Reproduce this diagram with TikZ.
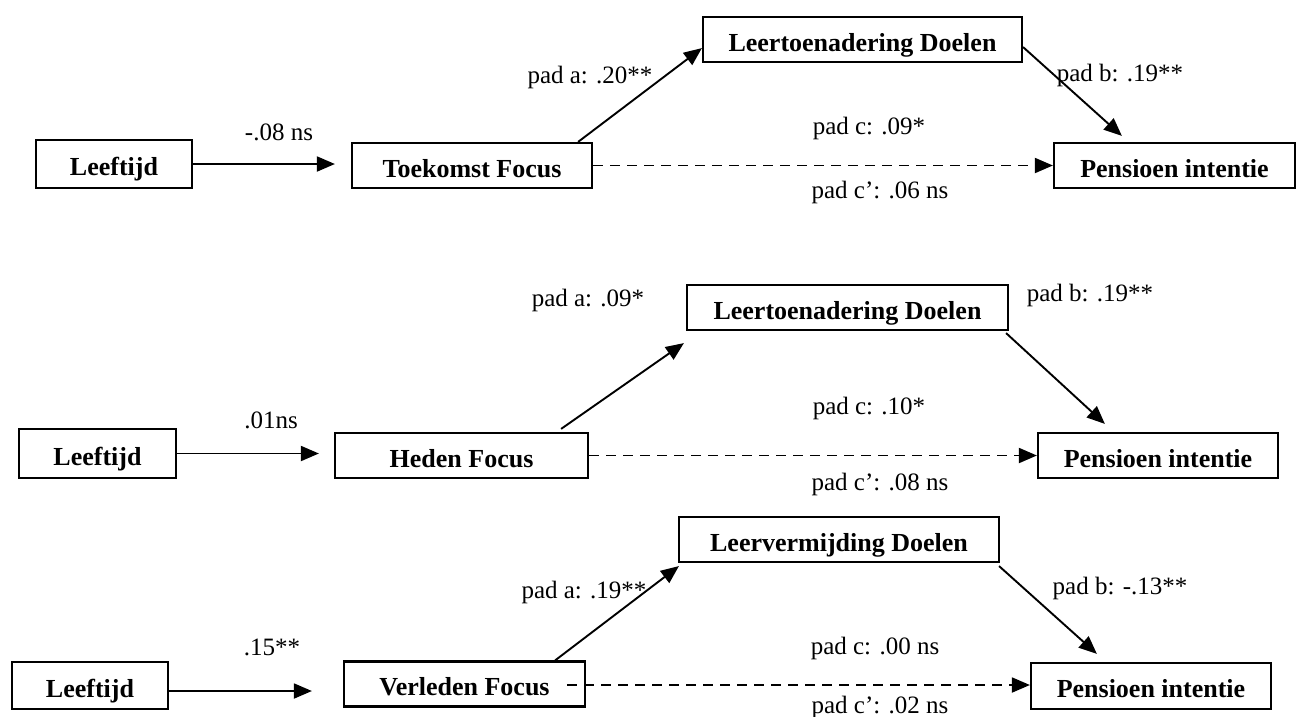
\documentclass[tikz,border=0pt]{standalone}
\usepackage{fontspec}
\setmainfont{Liberation Serif}
\usetikzlibrary{arrows.meta}

\begin{document}
\begin{tikzpicture}[x=1pt, y=-1pt, line width=1.9pt,
  box/.style={draw, line width=2.2pt, inner sep=0pt, minimum height=45pt,
    text height=34pt, text depth=11pt, font=\fontsize{26}{30}\selectfont\bfseries},
  lbl/.style={inner sep=0pt, font=\fontsize{25}{30}\selectfont},
  pijl/.style={-{Triangle[length=18pt, width=15pt]}},
  stip/.style={pijl, dash pattern=on 10pt off 7pt}]
  \useasboundingbox (0,0) rectangle (1304,716);
  % model 1: toekomst
  \node[box, minimum width=156pt, minimum height=48pt] (lft1) at (114,164) {Leeftijd};
  \node[box, minimum width=240pt] (tf) at (472,165.5) {Toekomst Focus};
  \node[box, minimum width=319pt] (ltd1) at (862.5,39.5) {Leertoenadering Doelen};
  \node[box, minimum width=241pt] (pi1) at (1174.5,165.5) {Pensioen intentie};
  \draw[pijl, shorten >=16pt] (lft1.east) -- (lft1.east -| tf.west);
  \draw[pijl] ([xshift=-15pt]tf.north east) -- ([yshift=15pt]ltd1.south west);
  \draw[pijl] ([yshift=16pt]ltd1.south east) -- ([xshift=69pt,yshift=6pt]pi1.north west);
  \draw[stip] (tf.east) -- (tf.east -| pi1.west);
  \node[lbl] (w1) at (279,132) {-.08 ns};
  \node[lbl] (a1) at (590,77) {pad a: .20**};
  \node[lbl] (b1) at (1120,75) {pad b: .19**};
  \node[lbl] (c1) at (869,128) {pad c: .09*};
  \node[lbl] (cc1) at (880,192) {pad c’: .06 ns};
  % model 2: heden
  \node[box, minimum width=157pt, minimum height=49pt] (lft2) at (97.5,453.5) {Leeftijd};
  \node[box, minimum width=253pt] (hf) at (461.5,455.5) {Heden Focus};
  \node[box, minimum width=321pt] (ltd2) at (847.5,307.5) {Leertoenadering Doelen};
  \node[box, minimum width=240pt] (pi2) at (1158,455.5) {Pensioen intentie};
  \draw[pijl, shorten >=15pt] (lft2.east) -- (lft2.east -| hf.west);
  \draw[pijl] ([xshift=-28pt,yshift=3pt]hf.north east) -- ([xshift=-2pt,yshift=-12pt]ltd2.south west);
  \draw[pijl] ([xshift=-3pt,yshift=-2pt]ltd2.south east) -- ([xshift=68pt,yshift=8pt]pi2.north west);
  \draw[stip] (hf.east) -- (hf.east -| pi2.west);
  \node[lbl] (w2) at (271,420) {.01ns};
  \node[lbl] (a2) at (588,300) {pad a: .09*};
  \node[lbl] (b2) at (1090,295) {pad b: .19**};
  \node[lbl] (c2) at (869,408) {pad c: .10*};
  \node[lbl] (cc2) at (880,484) {pad c’: .08 ns};
  % model 3: verleden
  \node[box, minimum width=156pt, minimum height=47pt] (lft3) at (90,685.5) {Leeftijd};
  \node[box, minimum width=241pt, minimum height=44pt] (vf) at (464.5,684) {Verleden Focus};
  \node[box, minimum width=320pt] (lvd) at (839,539.5) {Leervermijding Doelen};
  \node[box, minimum width=240pt, minimum height=46pt] (pi3) at (1151,686) {Pensioen intentie};
  \draw[pijl, shorten >=31pt] ([yshift=-5.5pt]lft3.east) -- ([yshift=-5.5pt]lft3.east -| vf.west);
  \draw[pijl] ([xshift=-31pt]vf.north east) -- ([xshift=1pt,yshift=-3pt]lvd.south west);
  \draw[pijl] ([xshift=-1pt,yshift=-3pt]lvd.south east) -- ([xshift=67pt,yshift=8pt]pi3.north west);
  \draw[stip] ([xshift=-19pt,yshift=-1pt]vf.east) -- ([yshift=-1pt]vf.east -| pi3.west);
  \node[lbl] (w3) at (272,647) {.15**};
  \node[lbl] (a3) at (584,592) {pad a: .19**};
  \node[lbl] (b3) at (1120,588) {pad b: -.13**};
  \node[lbl] (c3) at (875,648) {pad c: .00 ns};
  \node[lbl] (cc3) at (880,707) {pad c’: .02 ns};
\end{tikzpicture}
\end{document}
